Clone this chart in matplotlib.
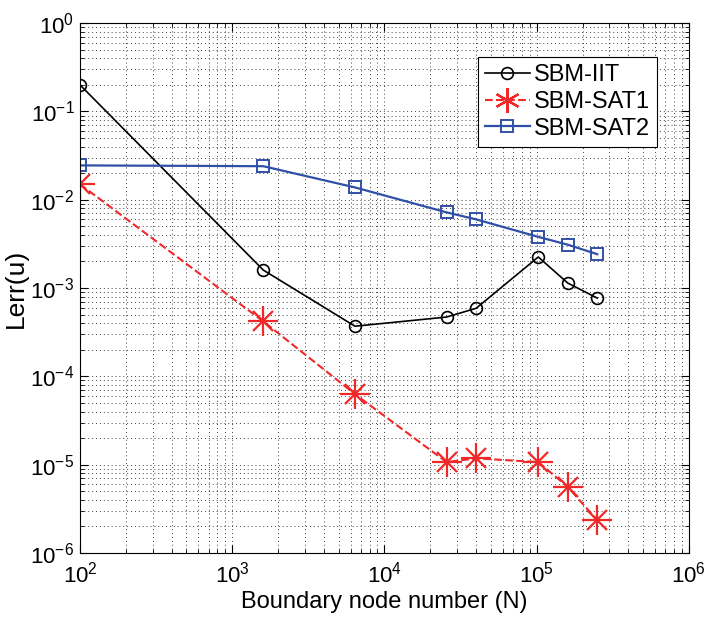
import numpy as np
from matplotlib import pyplot as plt
from matplotlib.lines import Line2D

plt.rcParams['font.family'] = ['Liberation Sans', 'DejaVu Sans']
plt.rcParams['mathtext.fontset'] = 'custom'
plt.rcParams['mathtext.rm'] = 'Liberation Sans'
plt.rcParams['mathtext.it'] = 'Liberation Sans'

# dane
n = np.array([100, 1600, 6400, 25600, 40000, 102400, 160000, 250000])
iit = np.array([2.0e-1, 1.6e-3, 3.7e-4, 4.7e-4, 5.9e-4, 2.25e-3, 1.14e-3, 7.7e-4])
sat1 = np.array([1.5e-2, 4.2e-4, 6.3e-5, 1.07e-5, 1.18e-5, 1.07e-5, 5.6e-6, 2.35e-6])
sat2 = np.array([2.45e-2, 2.4e-2, 1.38e-2, 7.2e-3, 6.0e-3, 3.8e-3, 3.1e-3, 2.42e-3])

red = '#f02828'
blue = '#3050a8'

fig = plt.figure(figsize=(7.04, 6.19), dpi=100)
ax = fig.add_axes([0.1136, 0.1066, 0.865, 0.856])

ax.loglog(n, iit, marker='o', linestyle='-', color='k', lw=1.2, ms=8.5,
          mfc='none', mew=1.2, label='SBM-IIT')
ax.loglog(n, sat1, linestyle='--', color=red, lw=1.5, label='SBM-SAT1')
# gwiazdki w stylu matlaba (plus + x)
ax.plot(n, sat1, linestyle='none', marker='+', color=red, ms=21, mew=1.6)
ax.plot(n, sat1, linestyle='none', marker='x', color=red, ms=15, mew=1.6)
ax.loglog(n, sat2, marker='s', linestyle='-', color=blue, lw=1.6, ms=8.5,
          mfc='none', mew=1.4, label='SBM-SAT2')

ax.set_xlim(1e2, 1e6)
ax.set_ylim(1e-6, 1e0)
ax.grid(True, which='both', linestyle=(0, (1, 3)), color='#404040', lw=0.7)
ax.tick_params(which='both', direction='in', top=True, right=True)
ax.tick_params(which='major', length=6, labelsize=16)
ax.tick_params(axis='x', which='major', pad=6)
ax.tick_params(axis='y', which='major', pad=4)
ax.tick_params(which='minor', length=3)
ax.set_xlabel('Boundary node number (N)', fontsize=17, labelpad=3)
ax.set_ylabel('Lerr(u)', fontsize=19, labelpad=2)

h, l = ax.get_legend_handles_labels()
h[1] = Line2D([], [], color=red, linestyle='--', lw=1.5, marker=(6, 2, 0), ms=18, mew=1.6)
leg = ax.legend(h, l, loc='upper right', bbox_to_anchor=(0.947, 0.936), borderaxespad=0,
                fontsize=17, fancybox=False, edgecolor='k', framealpha=1,
                handlelength=1.9, borderpad=0.3, labelspacing=0.2, handletextpad=0.15)
leg.get_frame().set_linewidth(0.8)

plt.savefig('out.png', dpi=100)
